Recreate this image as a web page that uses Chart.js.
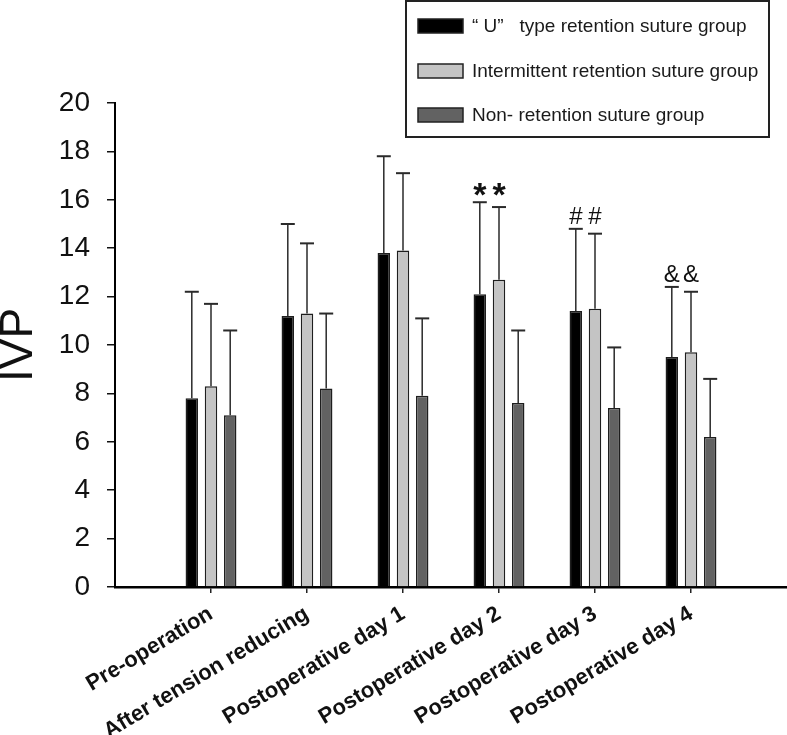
<!DOCTYPE html>
<html>
<head>
<meta charset="utf-8">
<script src="https://cdn.jsdelivr.net/npm/chart.js@4/dist/chart.umd.min.js"></script>
<style>
  html, body { margin: 0; padding: 0; background: #fff; }
  #wrap { width: 787px; height: 735px; }
</style>
</head>
<body>
<div id="wrap"><canvas id="ivp" width="787" height="735"></canvas></div>
<script>
const categories = ['Pre-operation', 'After tension reducing', 'Postoperative day 1',
  'Postoperative day 2', 'Postoperative day 3', 'Postoperative day 4'];
const seriesNames = ['\u201c U\u201d   type retention suture group',
  'Intermittent retention suture group', 'Non- retention suture group'];

const uType = [7.8, 11.2, 13.8, 12.1, 11.4, 9.5];
const uTypeSD = [4.4, 3.8, 4.0, 3.8, 3.4, 2.9];
const intermittent = [8.3, 11.3, 13.9, 12.7, 11.5, 9.7];
const intermittentSD = [3.4, 2.9, 3.2, 3.0, 3.1, 2.5];
const nonRetention = [7.1, 8.2, 7.9, 7.6, 7.4, 6.2];
const nonRetentionSD = [3.5, 3.1, 3.2, 3.0, 2.5, 2.4];
// significance marks drawn over the first two groups
const marks = ['', '', '', '*', '#', '&'];
const yTicks = [0, 2, 4, 6, 8, 10, 12, 14, 16, 18, 20];

const FONT = '"Liberation Sans", Arial, Helvetica, sans-serif';
const colors = ['#000000', '#c4c4c4', '#626262'];

// one empty slot on each side so the groups sit where the original has them
const pad = arr => [null, ...arr, null];
const labels = ['', ...categories, ''];
const sds = [pad(uTypeSD), pad(intermittentSD), pad(nonRetentionSD)];

const errorBars = {
  id: 'errorBars',
  afterDatasetsDraw(chart) {
    const {ctx, scales: {y}} = chart;
    ctx.save();
    chart.data.datasets.forEach((ds, i) => {
      chart.getDatasetMeta(i).data.forEach((bar, j) => {
        if (ds.data[j] == null) return;
        const top = y.getPixelForValue(ds.data[j] + sds[i][j]);
        ctx.strokeStyle = '#2a2a2a';
        ctx.lineWidth = 1.5;
        ctx.beginPath();
        ctx.moveTo(bar.x, bar.y);
        ctx.lineTo(bar.x, top);
        ctx.stroke();
        ctx.lineWidth = 2;
        ctx.beginPath();
        ctx.moveTo(bar.x - 7, top);
        ctx.lineTo(bar.x + 7, top);
        ctx.stroke();
      });
    });

    // significance symbols
    marks.forEach((m, k) => {
      if (!m) return;
      const j = k + 1;
      const tops = [0, 1].map(i => y.getPixelForValue(chart.data.datasets[i].data[j] + sds[i][j]));
      const target = Math.min(...tops) - 13;
      ctx.fillStyle = '#111';
      ctx.font = (m === '*' ? 'bold 34px ' : '24px ') + FONT;
      ctx.textAlign = 'center';
      ctx.textBaseline = 'alphabetic';
      const tm = ctx.measureText(m);
      const yy = target - (tm.actualBoundingBoxDescent - tm.actualBoundingBoxAscent) / 2;
      [0, 1].forEach(i => {
        const bar = chart.getDatasetMeta(i).data[j];
        ctx.fillText(m, bar.x, yy);
      });
    });
    ctx.restore();
  }
};

const boxLegend = {
  id: 'boxLegend',
  afterDraw(chart) {
    const {ctx} = chart;
    ctx.save();
    ctx.strokeStyle = '#222';
    ctx.lineWidth = 2;
    ctx.strokeRect(406, 1, 363, 136);
    const rows = [26, 71, 115];
    chart.data.datasets.forEach((ds, i) => {
      ctx.fillStyle = ds.backgroundColor;
      ctx.fillRect(418, rows[i] - 7, 45, 14);
      ctx.strokeStyle = '#222';
      ctx.lineWidth = 1.5;
      ctx.strokeRect(418, rows[i] - 7, 45, 14);
      ctx.fillStyle = '#1a1a1a';
      ctx.font = '19px ' + FONT;
      ctx.textAlign = 'left';
      ctx.textBaseline = 'middle';
      ctx.fillText(ds.label, 472, rows[i] + 1);
    });
    ctx.restore();
  }
};

new Chart(document.getElementById('ivp'), {
  type: 'bar',
  data: {
    labels: labels,
    datasets: [
      { label: seriesNames[0], data: pad(uType), backgroundColor: colors[0] },
      { label: seriesNames[1], data: pad(intermittent), backgroundColor: colors[1] },
      { label: seriesNames[2], data: pad(nonRetention), backgroundColor: colors[2] }
    ].map(d => Object.assign(d, {
      borderColor: '#1e1e1e',
      borderWidth: 1.5,
      borderSkipped: 'bottom',
      categoryPercentage: 0.6,
      barPercentage: 0.65
    }))
  },
  options: {
    responsive: false,
    animation: false,
    devicePixelRatio: 1,
    layout: { padding: { top: 103, left: 0, right: 0, bottom: 0 } },
    plugins: { legend: { display: false }, tooltip: { enabled: false } },
    scales: {
      x: {
        offset: false,
        afterFit(scale) {
          scale.height = 148;
          scale.paddingLeft = 0;
          scale.paddingRight = 0;
        },
        grid: {
          offset: false,
          drawOnChartArea: false,
          tickLength: 6,
          tickColor: ctx => (ctx.index === 0 || ctx.index === labels.length - 1) ? 'rgba(0,0,0,0)' : '#222',
          lineWidth: 1.5
        },
        border: { color: '#000', width: 2.5 },
        ticks: {
          autoSkip: false,
          minRotation: 31,
          maxRotation: 31,
          padding: 8,
          color: '#111',
          font: { family: FONT, size: 22, weight: 'bold' }
        }
      },
      y: {
        min: 0,
        max: 20,
        afterFit(scale) { scale.width = 115; },
        afterBuildTicks(scale) { scale.ticks = yTicks.map(v => ({ value: v })); },
        grid: { drawOnChartArea: false, tickLength: 8, tickColor: '#111', lineWidth: 1.5 },
        border: { color: '#000', width: 2 },
        ticks: {
          padding: 17,
          color: '#111',
          font: { family: FONT, size: 28 }
        },
        title: {
          display: true,
          text: 'IVP',
          color: '#111',
          padding: 0,
          font: { family: FONT, size: 46, lineHeight: 0.82 }
        }
      }
    }
  },
  plugins: [errorBars, boxLegend]
});
</script>
</body>
</html>
